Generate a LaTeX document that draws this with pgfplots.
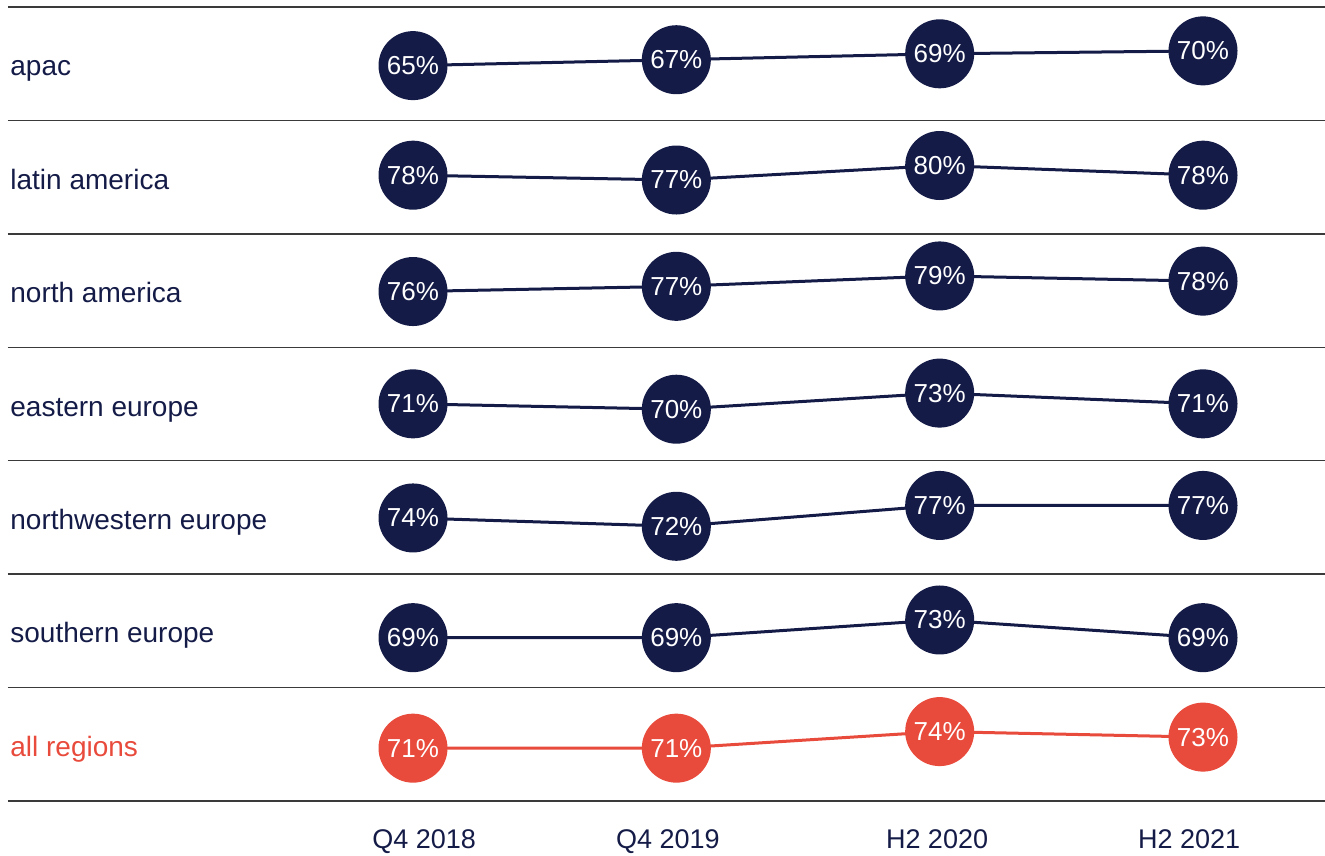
\documentclass[border=0pt]{standalone}
\usepackage{pgfplots}
\pgfplotsset{compat=1.18}
\usepackage{fontspec}
\setmainfont{Liberation Sans}
\definecolor{navy}{HTML}{141B47}
\definecolor{rred}{HTML}{E84A3B}
\definecolor{sep}{HTML}{3A3A3A}
\pgfplotsset{
 rowax/.style={
  scale only axis, width=658.5pt, height=56.71pt,
  anchor=south west, xmin=-1.538, xmax=3.4633,
  xtick=\empty, ytick=\empty,
  separate axis lines,
  y axis line style={draw=none},
  x axis line style={draw=sep, line width=0.7pt},
  clip=false,
  /pgf/number format/assume math mode=true,
  nodes near coords={\pgfmathprintnumber{\pgfplotspointmeta}\%},
  every node near coord/.append style={anchor=center, text=white, font=\fontsize{13}{15}\selectfont},
 },
 ln/.style={color=#1, line width=1.5pt, mark=*, mark size=16.5pt, mark options={fill=#1, draw=none}},
}
\newcommand{\rowlabel}[2]{\node[anchor=base west, inner sep=0pt, xshift=1pt, yshift=-6pt, text=#2, font=\fontsize{14}{16}\selectfont] at (rel axis cs:0,0.5) {#1};}
\begin{document}
\begin{tikzpicture}
\useasboundingbox (0,0) rectangle (662.5pt,427.5pt);
% apac
\begin{axis}[rowax, at={(4pt,367.285pt)}, ymin=46.43, ymax=84.87]
\addplot[ln=navy] coordinates {(0,65) (1,67) (2,69) (3,70)};
\rowlabel{apac}{navy}
\end{axis}
% latin america
\begin{axis}[rowax, at={(4pt,310.57pt)}, ymin=65.87, ymax=89.32]
\addplot[ln=navy] coordinates {(0,78) (1,77) (2,80) (3,78)};
\rowlabel{latin america}{navy}
\end{axis}
% north america
\begin{axis}[rowax, at={(4pt,253.855pt)}, ymin=65.28, ymax=87.09]
\addplot[ln=navy] coordinates {(0,76) (1,77) (2,79) (3,78)};
\rowlabel{north america}{navy}
\end{axis}
% eastern europe
\begin{axis}[rowax, at={(4pt,197.14pt)}, ymin=60.41, ymax=81.53]
\addplot[ln=navy] coordinates {(0,71) (1,70) (2,73) (3,71)};
\rowlabel{eastern europe}{navy}
\end{axis}
% northwestern europe
\begin{axis}[rowax, at={(4pt,140.425pt)}, ymin=60.53, ymax=87.72]
\addplot[ln=navy] coordinates {(0,74) (1,72) (2,77) (3,77)};
\rowlabel{northwestern europe}{navy}
\end{axis}
% southern europe
\begin{axis}[rowax, at={(4pt,83.71pt)}, ymin=57.70, ymax=83.38]
\addplot[ln=navy] coordinates {(0,69) (1,69) (2,73) (3,69)};
\rowlabel{southern europe}{navy}
\end{axis}
% all regions
\begin{axis}[rowax, at={(4pt,26.995pt)}, ymin=61.43, ymax=81.97,
  xtick={0.042,0.968,1.99,2.947}, xticklabels={Q4 2018,Q4 2019,H2 2020,H2 2021},
  major tick length=0pt,
  xticklabel style={anchor=base, yshift=-23.5pt, text=navy, font=\fontsize{13.5}{16}\selectfont}]
\addplot[ln=rred] coordinates {(0,71) (1,71) (2,74) (3,73)};
\rowlabel{all regions}{rred}
\end{axis}
\end{tikzpicture}
\end{document}
